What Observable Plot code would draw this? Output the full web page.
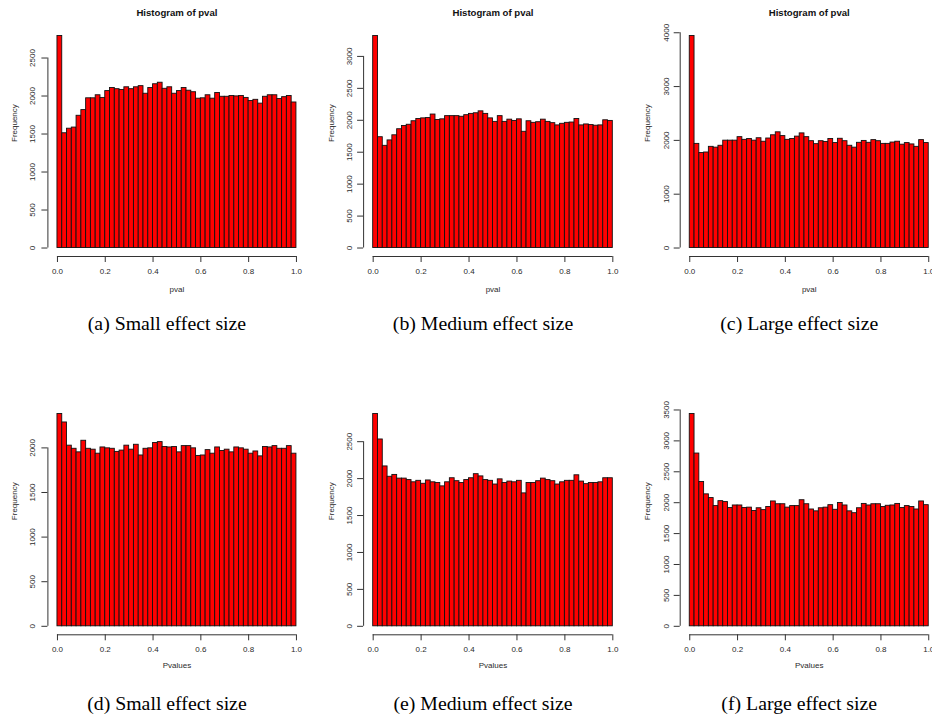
<!DOCTYPE html>
<html><head><meta charset="utf-8">
<script src="https://cdn.jsdelivr.net/npm/d3@7"></script>
<script src="https://cdn.jsdelivr.net/npm/@observablehq/plot@0.6"></script>
<style>
html,body{margin:0;padding:0;background:#fff;}
#wrap{position:relative;width:932px;height:717px;overflow:hidden;background:#fff;}
.panel{position:absolute;}
</style></head><body><div id="wrap"></div>
<script>
// ---- data ----
const xTicks = [0, 0.2, 0.4, 0.6, 0.8, 1.0];
const xTickLabels = ["0.0", "0.2", "0.4", "0.6", "0.8", "1.0"];
const binWidth = 0.02;

const countsA = [2790,1510,1570,1585,1740,1815,1970,1970,2010,1975,2065,2105,2090,2080,2115,2090,2115,2130,2030,2105,2155,2175,2095,2115,2030,2065,2105,2070,2050,1965,1970,2010,1965,2040,1990,1990,2000,1995,2000,1975,1935,1950,1900,1990,2010,2010,1960,1985,2000,1915];
const countsB = [3320,1735,1600,1685,1765,1860,1910,1930,1985,2020,2030,2035,2090,2005,2015,2065,2065,2065,2055,2080,2100,2110,2140,2100,2030,1975,2065,1975,2010,1990,2015,1820,1985,1960,1970,2010,1975,1955,1920,1945,1960,1965,2020,1920,1935,1925,1915,1920,2000,1990];
const countsC = [3940,1935,1765,1775,1880,1865,1900,1995,1995,1995,2060,2010,2025,1995,2040,1975,2035,2095,2150,2080,2010,2025,2070,2130,2060,1985,1930,1985,1970,2025,1950,2030,1985,1900,1865,1955,1990,1955,2005,1985,1935,1935,1960,1975,1920,1950,1925,1880,2005,1950];
const countsD = [2380,2285,2025,1990,1950,2080,1990,1980,1935,2005,1995,1990,1955,1970,2025,1980,2035,1915,1990,1995,2055,2065,2010,2005,2010,1950,2020,2020,1995,1910,1915,1975,1935,2005,1965,1980,1950,2005,1995,1980,1935,1960,1905,2010,2005,2020,1990,1990,2020,1935];
const countsE = [2875,2530,2165,2025,2050,2000,2000,1980,1950,1970,1930,1975,1950,1940,1895,1950,2005,1965,1940,1980,2005,2060,2030,1980,1970,1920,1990,1940,1960,1950,1970,1800,1940,1940,1965,2000,1980,1965,1920,1950,1970,1970,2045,1960,1925,1940,1940,1950,2005,2005];
const countsF = [3435,2795,2335,2135,2075,1945,2025,2010,1915,1955,1955,1915,1920,1865,1910,1880,1930,2020,1975,1975,1920,1945,1945,2040,1975,1890,1860,1910,1920,1960,1885,1995,1955,1860,1830,1910,1980,1955,1975,1975,1930,1950,1955,1980,1915,1945,1930,1890,2020,1960];

const yTicksA = [0, 500, 1000, 1500, 2000, 2500];
const yTicksB = [0, 500, 1000, 1500, 2000, 2500, 3000];
const yTicksC = [0, 1000, 2000, 3000, 4000];
const yTicksD = [0, 500, 1000, 1500, 2000];
const yTicksE = [0, 500, 1000, 1500, 2000, 2500];
const yTicksF = [0, 500, 1000, 1500, 2000, 2500, 3000, 3500];

const captions = ["(a) Small effect size", "(b) Medium effect size", "(c) Large effect size",
                  "(d) Small effect size", "(e) Medium effect size", "(f) Large effect size"];
const titleText = "Histogram of pval";
const xLabels = ["pval", "Pvalues"];
const yLabel = "Frequency";

// ---- layout ----
const rows = [
  {top: 0, height: 345, marginTop: 27, marginBottom: 89, xlabDy: 35, capDy: 73.5, title: true},
  {top: 380, height: 337, marginTop: 25, marginBottom: 82.7, xlabDy: 33.4, capDy: 75, title: false}
];
const cols = [
  {left: 0, width: 310, marginLeft: 47.4, marginRight: 4.5, ytDx: -15, ylDx: -33.4},
  {left: 310, width: 320, marginLeft: 53.1, marginRight: 8.1, ytDx: -14, ylDx: -32.6},
  {left: 620, width: 330, marginLeft: 59.7, marginRight: 12.2, ytDx: -14, ylDx: -33}
];

const panels = [
  {counts: countsA, yTicks: yTicksA, row: 0, col: 0, caption: captions[0]},
  {counts: countsB, yTicks: yTicksB, row: 0, col: 1, caption: captions[1]},
  {counts: countsC, yTicks: yTicksC, row: 0, col: 2, caption: captions[2]},
  {counts: countsD, yTicks: yTicksD, row: 1, col: 0, caption: captions[3]},
  {counts: countsE, yTicks: yTicksE, row: 1, col: 1, caption: captions[4]},
  {counts: countsF, yTicks: yTicksF, row: 1, col: 2, caption: captions[5]}
];

const wrap = document.getElementById("wrap");
const axisColor = "#333";
const textColor = "#2a2a2a";

for (const p of panels) {
  const r = rows[p.row], c = cols[p.col];
  const bins = p.counts.map((v, i) => ({x1: i * binWidth, x2: (i + 1) * binWidth, count: v}));
  const maxC = d3.max(p.counts);
  const yDom = [-0.04 * maxC, 1.04 * maxC];
  const xDom = [-0.04, 1.04];
  const marks = [
    Plot.rect(bins, {x1: "x1", x2: "x2", y1: 0, y2: "count", fill: "#ff0000", stroke: "#111", strokeWidth: 0.9}),
    Plot.ruleY([yDom[0]], {x1: xTicks[0], x2: xTicks[xTicks.length - 1], stroke: axisColor}),
    Plot.axisX({ticks: xTicks, tickFormat: d => xTickLabels[xTicks.indexOf(d)], tickSize: 6, tickPadding: 6, label: null, stroke: axisColor, fill: textColor}),
    Plot.ruleX([xDom[0]], {y1: p.yTicks[0], y2: p.yTicks[p.yTicks.length - 1], stroke: axisColor}),
    Plot.axisY({ticks: p.yTicks, tickSize: 6, tickFormat: () => "", label: null, stroke: axisColor}),
    Plot.text(p.yTicks, {y: d => d, frameAnchor: "left", rotate: -90, dx: c.ytDx, text: d => String(d), fill: textColor, textAnchor: "middle"}),
    Plot.text([yLabel], {frameAnchor: "left", rotate: -90, dx: c.ylDx, text: d => d, fill: textColor}),
    Plot.text([xLabels[p.row]], {frameAnchor: "bottom", dy: r.xlabDy, text: d => d, fill: textColor}),
    Plot.text([p.caption], {frameAnchor: "bottom", dy: r.capDy, dx: -10, text: d => d, fill: "#000",
      fontFamily: "'Liberation Serif', 'Times New Roman', serif", fontSize: 19.8})
  ];
  if (r.title) {
    marks.push(Plot.text([titleText], {frameAnchor: "top", dy: -18, text: d => d, fill: "#111", fontWeight: "bold", fontSize: 9.6}));
  }
  const svg = Plot.plot({
    width: c.width, height: r.height,
    marginTop: r.marginTop, marginBottom: r.marginBottom,
    marginLeft: c.marginLeft, marginRight: c.marginRight,
    style: {fontFamily: "'Liberation Sans', Arial, Helvetica, sans-serif", fontSize: "8px", color: textColor, background: "transparent", overflow: "visible"},
    x: {domain: xDom, axis: null},
    y: {domain: yDom, axis: null},
    marks
  });
  const div = document.createElement("div");
  div.className = "panel";
  div.style.left = c.left + "px";
  div.style.top = r.top + "px";
  div.style.width = c.width + "px";
  div.style.height = r.height + "px";
  div.appendChild(svg);
  wrap.appendChild(div);
}
</script></body></html>
